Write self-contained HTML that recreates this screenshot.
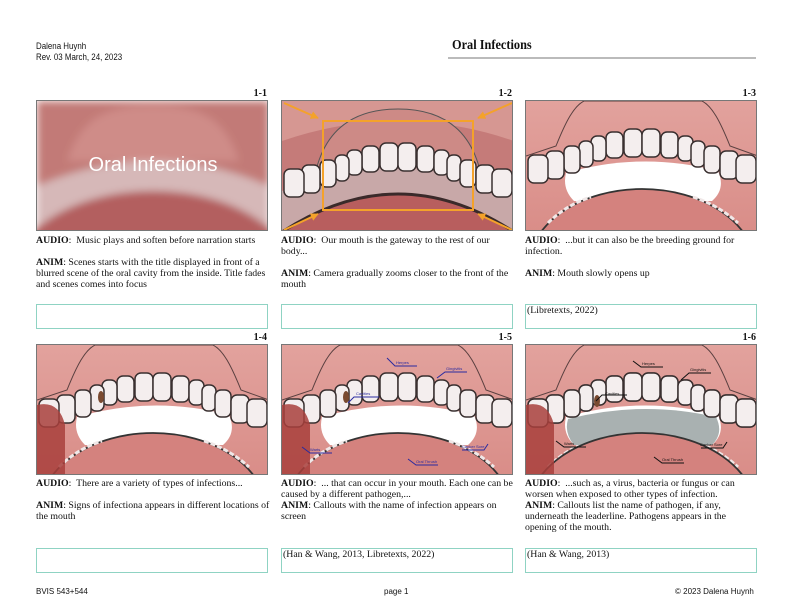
<!DOCTYPE html>
<html><head><meta charset="utf-8"><style>
body{margin:0;width:792px;height:612px;background:#fff;position:relative;overflow:hidden;font-family:"Liberation Serif",serif;color:#111}
.a{position:absolute}
.hd{font-family:"Liberation Sans",sans-serif;font-size:9px;line-height:11px;transform:scaleX(.88);transform-origin:left top}
.lab{position:absolute;font-weight:bold;font-size:10px;text-align:right;width:60px}
.img{position:absolute;width:232px;height:131px;border:1px solid #777;box-sizing:border-box;overflow:hidden}
.txt{position:absolute;width:234px;font-size:9.8px;line-height:11px}
.box{position:absolute;width:232px;height:25px;border:1.3px solid #8fd3c3;box-sizing:border-box;font-size:9.8px;line-height:11px;padding:0 1px}
.ft{position:absolute;top:587px;font-family:"Liberation Sans",sans-serif;font-size:8px}
</style></head><body>
<svg width="0" height="0" style="position:absolute">
<defs>
<linearGradient id="bg" x1="0" y1="0" x2="0" y2="1"><stop offset="0" stop-color="#e2a29d"/><stop offset="1" stop-color="#d98d88"/></linearGradient>
<marker id="ah" viewBox="0 0 10 10" refX="9" refY="5" markerWidth="4" markerHeight="4" orient="auto"><path d="M0,0L10,5L0,10Z" fill="#f4a22a"/></marker>
<g id="teeth" fill="#f4eeee" stroke="#3a3030" stroke-width="1.5">
<rect x="98" y="28" width="18" height="28" rx="6"/><rect x="116" y="28" width="18" height="28" rx="6"/>
<rect x="80" y="31" width="17" height="26" rx="6"/><rect x="135" y="31" width="17" height="26" rx="6"/>
<rect x="65" y="35" width="15" height="25" rx="6"/><rect x="152" y="35" width="15" height="25" rx="6"/>
<rect x="53" y="40" width="14" height="26" rx="6"/><rect x="165" y="40" width="14" height="26" rx="6"/>
<rect x="38" y="45" width="16" height="27" rx="6"/><rect x="178" y="45" width="16" height="27" rx="6"/>
<rect x="20" y="50" width="18" height="28" rx="6"/><rect x="194" y="50" width="18" height="28" rx="6"/>
<rect x="2" y="54" width="20" height="28" rx="6"/><rect x="210" y="54" width="20" height="28" rx="6"/>
</g>
<g id="open">
<rect width="232" height="131" fill="url(#bg)"/>
<path d="M0,55 L30,45 C40,20 48,5 58,0 L176,0 C186,5 194,20 204,45 L232,55" fill="none" stroke="#5a4040" stroke-width="1"/>
<path d="M40,72 Q116,50 192,70 Q200,88 186,100 L48,100 Q36,88 40,72Z" fill="#fff"/>
<use href="#teeth"/>
<ellipse cx="116" cy="168" rx="114" ry="80" fill="#d4827e" stroke="#333" stroke-width="1.8"/>
<path d="M22,122 Q40,104 65,96 M167,96 Q192,104 212,122" fill="none" stroke="#f0e8e8" stroke-width="3" stroke-dasharray="5 2"/>
</g>
</defs></svg>

<div class="a hd" style="left:36px;top:41px">Dalena Huynh<br>Rev. 03 March, 24, 2023</div>
<div class="a" style="left:452px;top:38px;font-size:14px;font-weight:bold;transform:scaleX(.88);transform-origin:left top">Oral Infections</div>
<div class="a" style="left:448px;top:57px;width:308px;height:2px;background:#bbb"></div>

<div class="lab" style="left:207px;top:88px">1-1</div>
<div class="lab" style="left:452px;top:88px">1-2</div>
<div class="lab" style="left:696px;top:88px">1-3</div>
<div class="lab" style="left:207px;top:332px">1-4</div>
<div class="lab" style="left:452px;top:332px">1-5</div>
<div class="lab" style="left:696px;top:332px">1-6</div>

<!-- 1-1 -->
<div class="img" style="left:36px;top:100px"><svg width="232" height="131" viewBox="0 0 232 131">
<defs><filter id="bl"><feGaussianBlur stdDeviation="4"/></filter></defs>
<g filter="url(#bl)"><rect width="232" height="131" fill="#c27a77"/>
<path d="M30,60 C45,15 70,5 116,5 C162,5 187,15 202,60" fill="#cf8c88"/>
<path d="M0,85 Q116,35 232,85 L232,125 Q116,75 0,125Z" fill="#d6b8b8"/>
<ellipse cx="116" cy="175" rx="140" ry="85" fill="#b35e5e"/></g>
<text x="116" y="70" text-anchor="middle" font-family="Liberation Sans,sans-serif" font-size="20" fill="#fff">Oral Infections</text>
</svg></div>

<!-- 1-2 -->
<div class="img" style="left:281px;top:100px"><svg width="232" height="131" viewBox="0 0 232 131">
<rect width="232" height="131" fill="#c57b79"/>
<path d="M0,0 H232 V40 Q116,0 0,40Z" fill="#d69792"/>
<path d="M30,95 C35,30 70,8 116,8 C162,8 197,30 202,95" fill="#cd8a86" stroke="#555" stroke-width="1"/>
<path d="M0,90 Q116,35 232,90 L232,131 L0,131Z" fill="#c8a8a8"/>
<use href="#teeth" transform="translate(0,14)"/>
<path d="M0,131 Q116,55 232,131" fill="#b85e5e" stroke="#3a2a2a" stroke-width="3"/>
<rect x="41" y="20" width="150" height="89" fill="none" stroke="#f4a22a" stroke-width="2"/>
<g stroke="#f4a22a" stroke-width="2" marker-end="url(#ah)">
<line x1="2" y1="2" x2="36" y2="17"/><line x1="230" y1="2" x2="196" y2="17"/>
<line x1="2" y1="129" x2="36" y2="113"/><line x1="230" y1="129" x2="196" y2="113"/>
</g></svg></div>

<!-- 1-3 -->
<div class="img" style="left:525px;top:100px"><svg width="232" height="131" viewBox="0 0 232 131"><use href="#open"/></svg></div>

<!-- 1-4 -->
<div class="img" style="left:36px;top:344px"><svg width="232" height="131" viewBox="0 0 232 131"><use href="#open"/>
<path d="M0,60 Q22,55 28,80 L28,131 L0,131Z" fill="#a8403c" opacity=".85"/>
<ellipse cx="64" cy="52" rx="3" ry="6" fill="#7a4a30"/></svg></div>

<!-- 1-5 -->
<div class="img" style="left:281px;top:344px"><svg width="232" height="131" viewBox="0 0 232 131"><use href="#open"/>
<path d="M0,60 Q22,55 28,80 L28,131 L0,131Z" fill="#a8403c" opacity=".85"/>
<ellipse cx="64" cy="52" rx="3" ry="6" fill="#7a4a30"/>
<g stroke="#2a2aa0" stroke-width="1" fill="none">
<path d="M105,13 l8,8 h22"/><path d="M155,33 l8,-6 h22"/><path d="M66,58 l6,-6 h25"/>
<path d="M20,102 l8,6 h22"/><path d="M206,99 l-4,6 h-22"/><path d="M126,114 l8,6 h22"/></g>
<g fill="#2a2aa0" font-size="4" font-family="Liberation Sans,sans-serif"><text x="114" y="19">Herpes</text><text x="164" y="25">Gingivitis</text><text x="74" y="50">Cavities</text><text x="28" y="106">Warts</text><text x="180" y="103">Canker Sore</text><text x="134" y="118">Oral Thrush</text></g>
</svg></div>

<!-- 1-6 -->
<div class="img" style="left:525px;top:344px"><svg width="232" height="131" viewBox="0 0 232 131"><use href="#open"/>
<path d="M42,74 Q116,55 190,72 Q198,88 186,100 L48,100 Q38,88 42,74Z" fill="#a9b1b1"/>
<use href="#teeth"/>
<ellipse cx="116" cy="168" rx="114" ry="80" fill="#d4827e" stroke="#333" stroke-width="1.8"/>
<path d="M0,60 Q22,55 28,80 L28,131 L0,131Z" fill="#a8403c" opacity=".85"/>
<ellipse cx="71" cy="56" rx="3" ry="6" fill="#7a4a30"/>
<g stroke="#111" stroke-width="1" fill="none">
<path d="M107,16 l8,6 h22"/><path d="M155,35 l8,-7 h22"/><path d="M70,56 l6,-6 h25"/>
<path d="M30,96 l8,6 h22"/><path d="M201,97 l-4,6 h-22"/><path d="M128,112 l8,6 h22"/></g>
<g fill="#111" font-size="4" font-family="Liberation Sans,sans-serif"><text x="116" y="20">Herpes</text><text x="164" y="26">Gingivitis</text><text x="79" y="50">Cavities</text><text x="38" y="100">Warts</text><text x="174" y="101">Canker Sore</text><text x="136" y="116">Oral Thrush</text></g>
</svg></div>

<div class="txt" style="left:36px;top:235px"><b>AUDIO</b>:&nbsp; Music plays and soften before narration starts<br><br><b>ANIM</b>: Scenes starts with the title displayed in front of a blurred scene of the oral cavity from the inside. Title fades and scenes comes into focus</div>
<div class="txt" style="left:281px;top:235px"><b>AUDIO</b>:&nbsp; Our mouth is the gateway to the rest of our body...<br><br><b>ANIM</b>: Camera gradually zooms closer to the front of the mouth</div>
<div class="txt" style="left:525px;top:235px"><b>AUDIO</b>:&nbsp; ...but it can also be the breeding ground for infection.<br><br><b>ANIM</b>: Mouth slowly opens up</div>
<div class="txt" style="left:36px;top:478px"><b>AUDIO</b>:&nbsp; There are a variety of types of infections...<br><br><b>ANIM</b>: Signs of infectiona appears in different locations of the mouth</div>
<div class="txt" style="left:281px;top:478px"><b>AUDIO</b>:&nbsp; ... that can occur in your mouth. Each one can be caused by a different pathogen,...<br><b>ANIM</b>: Callouts with the name of infection appears on screen</div>
<div class="txt" style="left:525px;top:478px"><b>AUDIO</b>:&nbsp; ...such as, a virus, bacteria or fungus or can worsen when exposed to other types of infection.<br><b>ANIM</b>: Callouts list the name of pathogen, if any, underneath the leaderline. Pathogens appears in the opening of the mouth.</div>

<div class="box" style="left:36px;top:304px"></div>
<div class="box" style="left:281px;top:304px"></div>
<div class="box" style="left:525px;top:304px">(Libretexts, 2022)</div>
<div class="box" style="left:36px;top:548px"></div>
<div class="box" style="left:281px;top:548px">(Han &amp; Wang, 2013, Libretexts, 2022)</div>
<div class="box" style="left:525px;top:548px">(Han &amp; Wang, 2013)</div>

<div class="ft" style="left:36px">BVIS 543+544</div>
<div class="ft" style="left:384px">page 1</div>
<div class="ft" style="left:675px">© 2023 Dalena Huynh</div>
</body></html>
